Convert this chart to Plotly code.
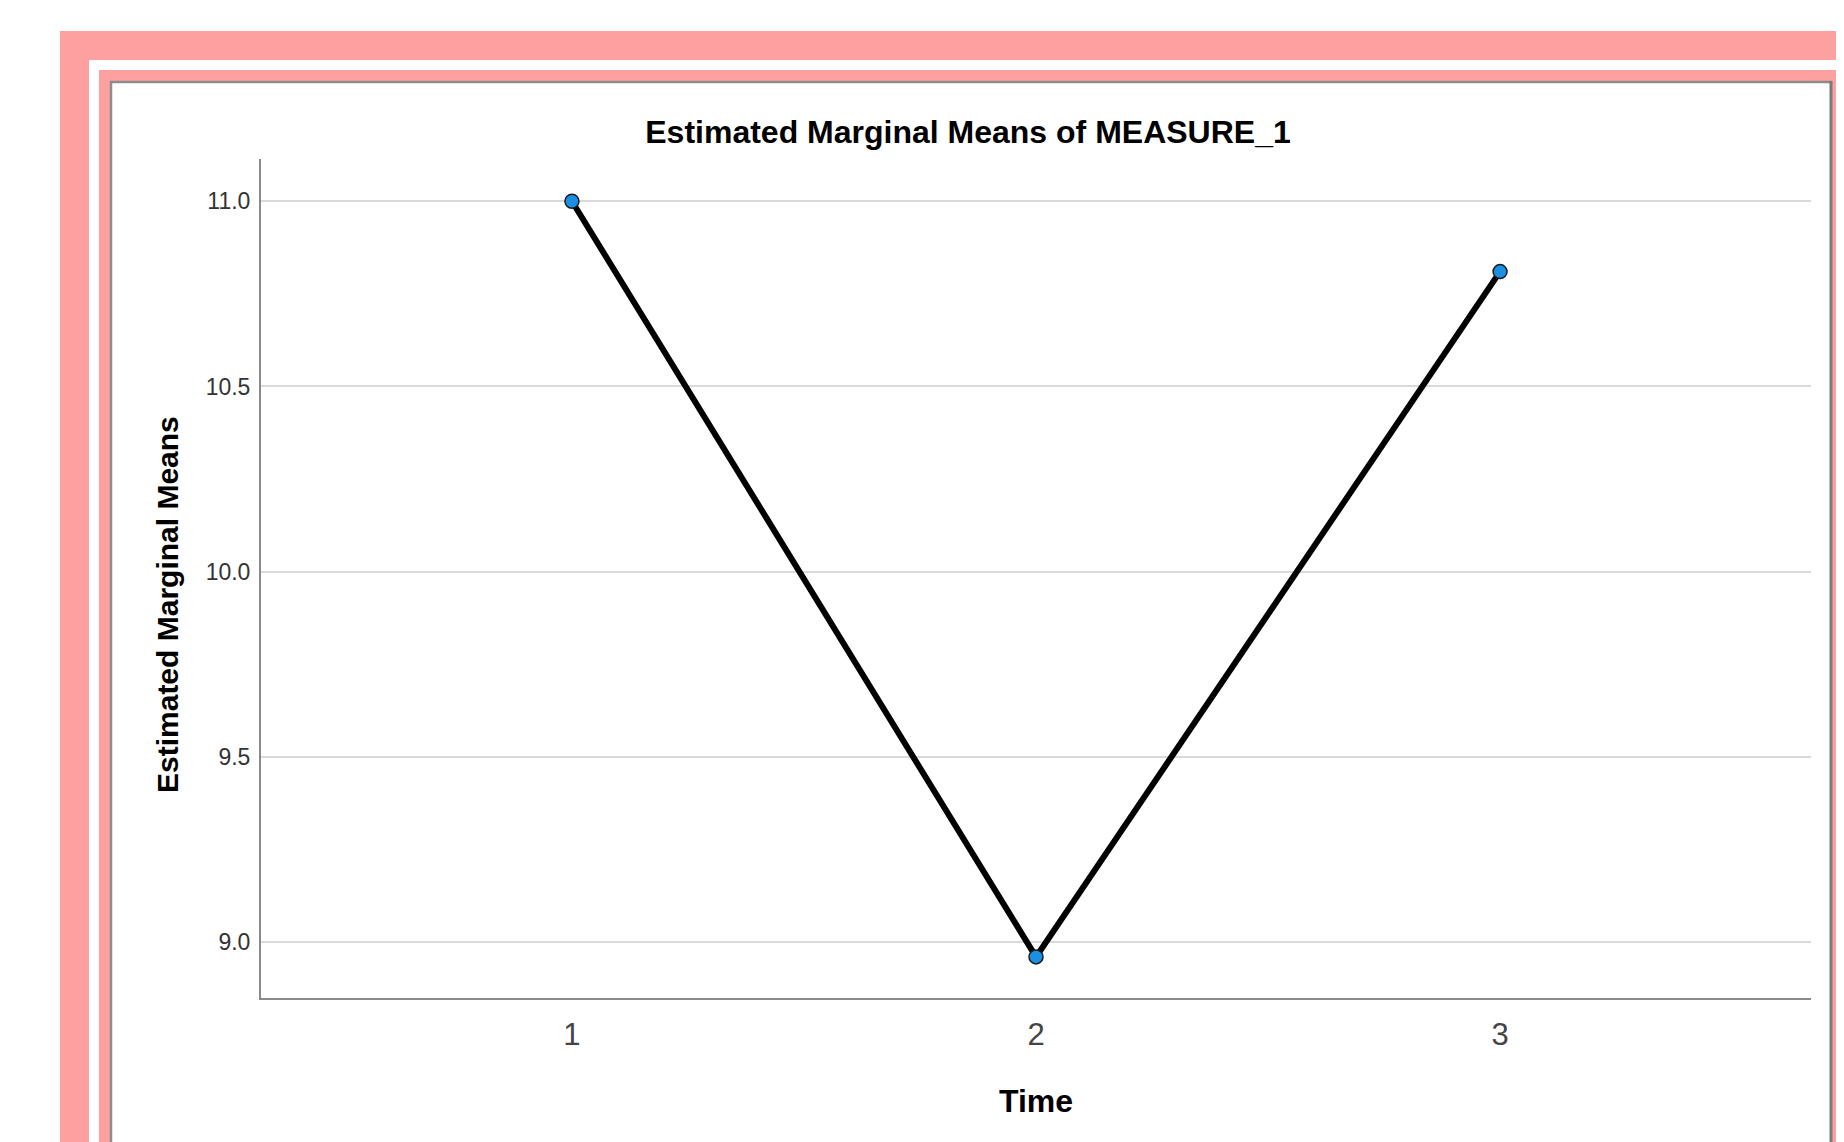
import plotly.graph_objects as go

# ---- data ----
time_points = [1, 2, 3]
time_labels = ["1", "2", "3"]
marginal_means = [11.0, 8.96, 10.81]
y_ticks = [9.0, 9.5, 10.0, 10.5, 11.0]
y_tick_labels = ["9.0", "9.5", "10.0", "10.5", "11.0"]

WIN_W, WIN_H = 1844, 1142
OFF = 8  # default body margin of the page
W, H = WIN_W - OFF, WIN_H - OFF
# plot area in window pixels
L, R, T, B = 261, 1811, 159, 998

def px(x):
    return (x - L) / (R - L)

def py(y):
    return (B - y) / (B - T)

PINK = "#FFA0A0"

fig = go.Figure()
fig.add_trace(go.Scatter(
    x=time_points, y=marginal_means,
    mode="lines+markers",
    line=dict(color="#000000", width=6),
    marker=dict(size=14, color="#1a8fe3", line=dict(color="#1a1a1a", width=1.5)),
    showlegend=False,
    hoverinfo="x+y",
))

shapes = []
def rect(x0, y0, x1, y1, color):
    shapes.append(dict(type="rect", xref="paper", yref="paper",
                       x0=px(x0), x1=px(x1), y0=py(y0), y1=py(y1),
                       fillcolor=color, line=dict(width=0), layer="below"))
def line(x0, y0, x1, y1, color, w):
    shapes.append(dict(type="line", xref="paper", yref="paper",
                       x0=px(x0), x1=px(x1), y0=py(y0), y1=py(y1),
                       line=dict(color=color, width=w), layer="below"))

rect(60, 31, 1900, 1200, PINK)
rect(89, 60, 1900, 1200, "#FFFFFF")
rect(99, 70, 1900, 1200, PINK)
rect(110, 81, 1832, 1200, "#FFFFFF")
line(110, 82, 1832, 82, "#8c8c8c", 2.5)
line(111, 81, 111, 1200, "#8c8c8c", 2.5)
line(1831, 81, 1831, 1200, "#7a7a7a", 3)

annotations = [dict(
    text="<b>Estimated Marginal Means</b>",
    xref="paper", yref="paper", x=px(167), y=py(605),
    xanchor="center", yanchor="middle", textangle=-90, showarrow=False,
    font=dict(size=30, color="#000000", family="Liberation Sans, Arial, sans-serif"),
)]

fig.update_layout(
    width=W, height=H,
    margin=dict(l=L - OFF, r=WIN_W - R, t=T - OFF, b=WIN_H - B, pad=0),
    paper_bgcolor="#FFFFFF",
    plot_bgcolor="rgba(0,0,0,0)",
    shapes=shapes,
    annotations=annotations,
    font=dict(family="Liberation Sans, Arial, sans-serif", color="#333333"),
    title=dict(
        text="<b>Estimated Marginal Means of MEASURE_1</b>",
        font=dict(size=32, color="#000000", family="Liberation Sans, Arial, sans-serif"),
        xref="container", yref="container",
        x=(968 - OFF) / W, y=1 - (132 - OFF) / H, xanchor="center", yanchor="middle",
    ),
    xaxis=dict(
        range=[0.33, 3.67],
        tickmode="array", tickvals=time_points, ticktext=time_labels,
        showgrid=False, zeroline=False,
        showline=True, linecolor="#8a8a8a", linewidth=2,
        ticks="", tickfont=dict(size=31, color="#444444"),
        ticklabelstandoff=8,
        title=dict(text="<b>Time</b>", font=dict(size=32, color="#000000"), standoff=38),
    ),
    yaxis=dict(
        range=[8.849, 11.114],
        tickmode="array", tickvals=y_ticks, ticktext=y_tick_labels,
        showgrid=True, gridcolor="#d9d9d9", gridwidth=2,
        zeroline=False,
        showline=True, linecolor="#8a8a8a", linewidth=2,
        ticks="", tickfont=dict(size=23, color="#333333"),
        ticklabelstandoff=4,
    ),
)

fig.write_html("out.html")
